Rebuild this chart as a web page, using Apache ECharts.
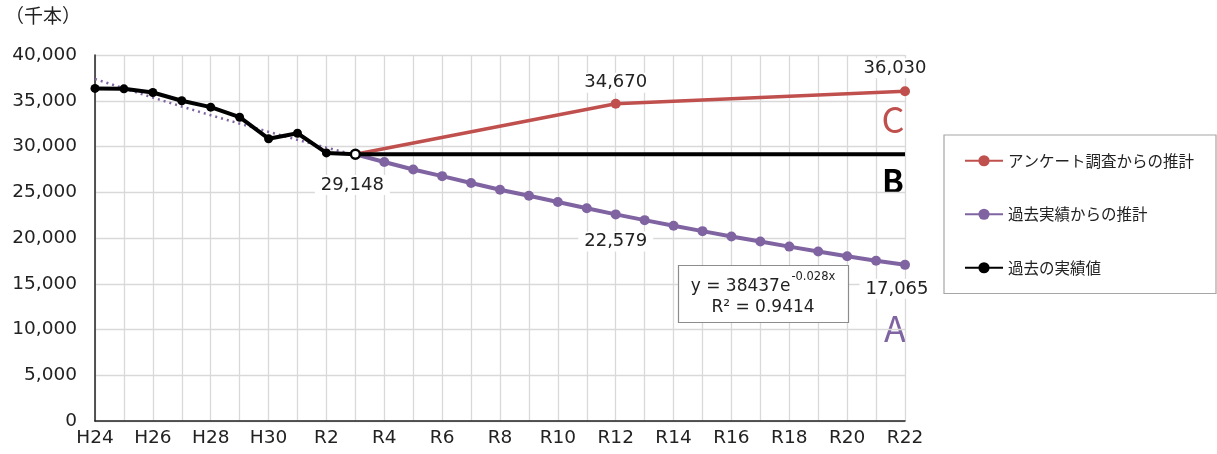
<!DOCTYPE html>
<html lang="ja">
<head>
<meta charset="utf-8">
<title>推計</title>
<script src="https://cdn.jsdelivr.net/npm/echarts@6/dist/echarts.min.js"></script>
<style>
  html, body { margin: 0; padding: 0; background: #fff; }
  #chart { width: 1217px; height: 454px; }
</style>
</head>
<body>
<div id="chart"></div>
<script>
// Fiscal years, Heisei 24 to Reiwa 22
const categories = ['H24','H25','H26','H27','H28','H29','H30','R1','R2','R3',
  'R4','R5','R6','R7','R8','R9','R10','R11','R12','R13','R14','R15','R16',
  'R17','R18','R19','R20','R21','R22'];

// Past results (thousand units), H24 to R3
const actualYears = ['H24','H25','H26','H27','H28','H29','H30','R1','R2','R3'];
const actualValues = [36350, 36300, 35900, 35000, 34300, 33200, 30850, 31450, 29300, 29148];

// Exponential trendline over the past results
const trendValues = [37380, 36350, 35350, 34370, 33420, 32500, 31600, 30730, 29880, 29060];

// Projection from past results, R3 to R22
const projYears = ['R3','R4','R5','R6','R7','R8','R9','R10','R11','R12','R13',
  'R14','R15','R16','R17','R18','R19','R20','R21','R22'];
const projValues = [29148, 28300, 27480, 26760, 26010, 25280, 24620, 23930, 23260, 22579,
  21950, 21340, 20750, 20170, 19610, 19060, 18530, 18010, 17510, 17065];

// Projection from the questionnaire survey
const surveyYears = ['R3', 'R12', 'R22'];
const surveyValues = [29148, 34670, 36030];

// Flat line holding the latest result (case B)
const flatYears = ['R3', 'R22'];
const flatValues = [29148, 29148];

const yTicks = { min: 0, max: 40000, interval: 5000 };

const FONT = '"Noto Sans CJK JP", "Noto Sans", sans-serif';
const NUM_FONT = '"DejaVu Sans", "Noto Sans", sans-serif';
const RED = '#c0504d', PURPLE = '#8064a2', BLACK = '#000000';
const fmt = v => v.toLocaleString('en-US');

const valueLabel = (position, distance, offset) => ({
  show: true, position, distance, offset: offset || [0, 0],
  formatter: p => fmt(p.value[1]),
  fontFamily: NUM_FONT, fontSize: 18, color: '#222',
  backgroundColor: '#fff', padding: [1, 6]
});

const pairs = (xs, ys) => xs.map((x, i) => [x, ys[i]]);

const surveyData = pairs(surveyYears, surveyValues).map((d, i) => {
  const item = { value: d };
  if (i === 0) item.symbol = 'none';
  if (d[0] === 'R12') item.label = valueLabel('top', 6);
  if (d[0] === 'R22') item.label = valueLabel('top', 8, [-10, 0]);
  return item;
});

const projData = pairs(projYears, projValues).map(d => {
  const item = { value: d };
  if (d[0] === 'R12') item.label = valueLabel('bottom', 12);
  if (d[0] === 'R22') item.label = valueLabel('bottom', 9, [-8, 0]);
  return item;
});

const actualData = pairs(actualYears, actualValues).map(d => {
  const item = { value: d };
  if (d[0] === 'R3') {
    item.label = valueLabel('bottom', 15, [-3, 0]);
    item.itemStyle = { color: '#fff', borderColor: BLACK, borderWidth: 2.5 };
  }
  return item;
});

const chart = echarts.init(document.getElementById('chart'), null, { renderer: 'canvas' });

chart.setOption({
  animation: false,
  backgroundColor: '#fff',
  textStyle: { fontFamily: FONT },
  grid: { left: 95, right: 312, top: 55, bottom: 33, containLabel: false },
  xAxis: {
    type: 'category',
    data: categories,
    boundaryGap: false,
    axisLine: { lineStyle: { color: '#222', width: 1.5 } },
    axisTick: { show: false },
    axisLabel: { interval: 1, fontSize: 18.5, color: '#222', fontFamily: NUM_FONT, margin: 8 },
    splitLine: { show: true, interval: 0, lineStyle: { color: '#d9d9d9', width: 1.3 } }
  },
  yAxis: {
    type: 'value',
    min: yTicks.min, max: yTicks.max, interval: yTicks.interval,
    axisLine: { show: true, lineStyle: { color: '#222', width: 1.5 } },
    axisTick: { show: false },
    axisLabel: { fontSize: 18.5, color: '#222', fontFamily: NUM_FONT, margin: 18,
      formatter: v => fmt(v) },
    splitLine: { lineStyle: { color: '#d9d9d9', width: 1.3 } }
  },
  legend: {
    orient: 'vertical',
    left: 944, top: 135,
    padding: [18, 22, 18, 20],
    borderColor: '#a6a6a6', borderWidth: 1.2,
    itemWidth: 38, itemHeight: 14, itemGap: 38, itemTextGap: 2,
    textStyle: { fontSize: 15.5, color: '#222', fontFamily: FONT },
    data: ['アンケート調査からの推計', '過去実績からの推計', '過去の実績値']
  },
  series: [
    {
      name: '近似曲線',
      type: 'line',
      data: pairs(actualYears, trendValues),
      symbol: 'none',
      lineStyle: { color: PURPLE, width: 2.5, type: [2, 4] },
      z: 1
    },
    {
      name: 'アンケート調査からの推計',
      type: 'line',
      data: surveyData,
      color: RED,
      symbol: 'circle', symbolSize: 10,
      lineStyle: { color: RED, width: 3.5 },
      itemStyle: { color: RED },
      z: 2
    },
    {
      name: '過去実績からの推計',
      type: 'line',
      data: projData,
      color: PURPLE,
      symbol: 'circle', symbolSize: 10,
      lineStyle: { color: PURPLE, width: 4 },
      itemStyle: { color: PURPLE },
      z: 3
    },
    {
      name: '横ばい',
      type: 'line',
      data: pairs(flatYears, flatValues),
      symbol: 'none',
      lineStyle: { color: BLACK, width: 4 },
      z: 4
    },
    {
      name: '過去の実績値',
      type: 'line',
      data: actualData,
      color: BLACK,
      symbol: 'circle', symbolSize: 9,
      lineStyle: { color: BLACK, width: 4 },
      itemStyle: { color: BLACK },
      z: 5
    }
  ],
  graphic: [
    { type: 'text', left: 5, top: 6,
      style: { text: '（千本）', fontSize: 19, fill: '#222', fontFamily: FONT } },
    { type: 'text', x: 893, y: 119,
      style: { text: 'C', fontSize: 36, fill: RED, fontFamily: FONT,
        textAlign: 'center', textVerticalAlign: 'middle' } },
    { type: 'text', x: 893, y: 181,
      style: { text: 'B', fontSize: 32, fontWeight: 'bold', fill: BLACK, fontFamily: FONT,
        textAlign: 'center', textVerticalAlign: 'middle' } },
    { type: 'text', x: 895, y: 328,
      style: { text: 'A', fontSize: 36, fill: PURPLE, fontFamily: FONT,
        textAlign: 'center', textVerticalAlign: 'middle' } },
    { type: 'rect', shape: { x: 678.5, y: 265.5, width: 170, height: 57 },
      style: { fill: '#fff', stroke: '#8c8c8c', lineWidth: 1.2 }, z: 10 },
    { type: 'text', x: 763, y: 283, z: 11,
      style: {
        text: '{a|y = 38437e}{sup|-0.028x}',
        fontFamily: NUM_FONT, fill: '#222',
        textAlign: 'center', textVerticalAlign: 'middle',
        rich: {
          a: { fontSize: 17, fill: '#222', fontFamily: NUM_FONT, lineHeight: 24, verticalAlign: 'bottom' },
          sup: { fontSize: 11.5, fill: '#222', fontFamily: NUM_FONT, lineHeight: 24, verticalAlign: 'top', padding: [0, 0, 0, 1] }
        }
      } },
    { type: 'text', x: 763, y: 308, z: 11,
      style: { text: 'R² = 0.9414', fontSize: 17, fill: '#222', fontFamily: NUM_FONT,
        textAlign: 'center', textVerticalAlign: 'middle' } }
  ]
});
</script>
</body>
</html>
